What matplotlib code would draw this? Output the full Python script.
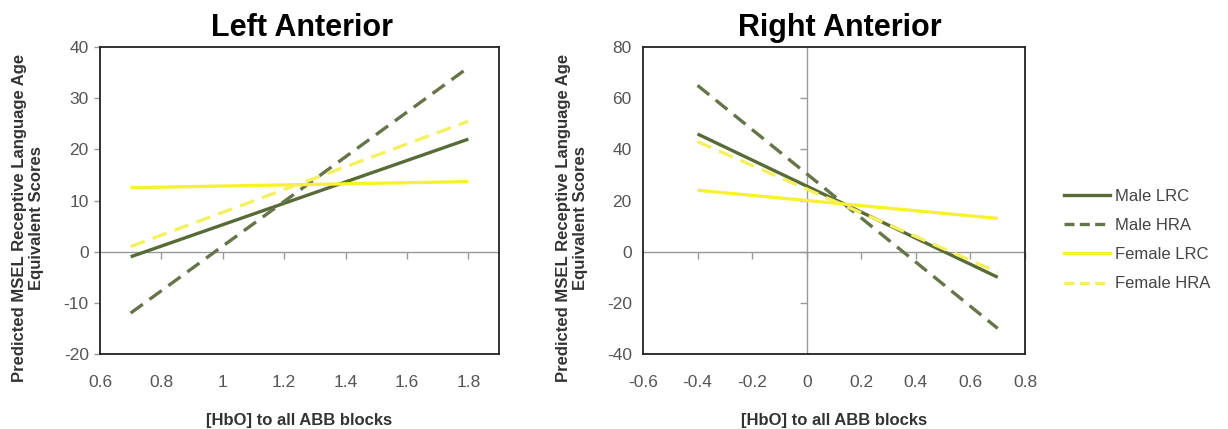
import matplotlib
matplotlib.use("Agg")
import matplotlib.pyplot as plt
from matplotlib.lines import Line2D

plt.rcParams['font.family'] = ['Liberation Sans', 'DejaVu Sans']
plt.rcParams['axes.unicode_minus'] = False

# Predicted scores at the two ends of the [HbO] range, per panel
series_names = ["Male LRC", "Male HRA", "Female LRC", "Female HRA"]

left_x = [0.7, 1.8]
left_male_lrc = [-1.0, 22.0]
left_male_hra = [-12.0, 36.0]
left_female_lrc = [12.5, 13.7]
left_female_hra = [1.0, 25.5]

right_x = [-0.4, 0.7]
right_male_lrc = [46.0, -10.0]
right_male_hra = [65.0, -30.0]
right_female_lrc = [24.0, 13.0]
right_female_hra = [43.0, -8.0]

left_xticks = [0.6, 0.8, 1.0, 1.2, 1.4, 1.6, 1.8]
left_xticklabels = ["0.6", "0.8", "1", "1.2", "1.4", "1.6", "1.8"]
left_yticks = [-20, -10, 0, 10, 20, 30, 40]
right_xticks = [-0.6, -0.4, -0.2, 0.0, 0.2, 0.4, 0.6, 0.8]
right_xticklabels = ["-0.6", "-0.4", "-0.2", "0", "0.2", "0.4", "0.6", "0.8"]
right_yticks = [-40, -20, 0, 20, 40, 60, 80]

OLIVE = "#586b36"
OLIVE_DASH = "#66744a"
YELLOW = "#f6f230"
YELLOW_DASH = "#f4f060"
styles = [
    dict(color=OLIVE, ls="-", lw=2.4),
    dict(color=OLIVE_DASH, ls=(0, (4.5, 2.5)), lw=2.4),
    dict(color=YELLOW, ls="-", lw=2.4),
    dict(color=YELLOW_DASH, ls=(0, (4.5, 2.5)), lw=2.4),
]
TICK_COLOR = "#555555"
AXIS_GRAY = "#999999"

fig = plt.figure(figsize=(12.28, 4.29), dpi=100)
ax1 = fig.add_axes([0.0814, 0.1748, 0.325, 0.7156])
ax2 = fig.add_axes([0.5236, 0.1748, 0.3111, 0.7156])


def style_axes(ax, xticks, xlabels, yticks, xlim, ylim, title, title_x, ylabel_x):
    ax.set_xlim(*xlim)
    ax.set_ylim(*ylim)
    ax.set_xticks(xticks)
    ax.set_xticklabels(xlabels)
    ax.set_yticks(yticks)
    ax.tick_params(axis='both', length=0, labelsize=12.5, labelcolor=TICK_COLOR)
    ax.tick_params(axis='x', pad=15)
    ax.tick_params(axis='y', pad=8)
    for sp in ax.spines.values():
        sp.set_color("#222222")
        sp.set_linewidth(1.3)
    ax.set_title(title, fontsize=22, fontweight='bold', pad=8, x=title_x)
    ax.set_xlabel("[HbO] to all ABB blocks", fontsize=12, fontweight='bold',
                  color="#333333", labelpad=17)
    ax.set_ylabel("Predicted MSEL Receptive Language Age\nEquivalent Scores",
                  fontsize=12, fontweight='bold', color="#333333")
    ax.yaxis.set_label_coords(ylabel_x, 0.443)
    # horizontal zero axis with small downward tick marks
    ax.axhline(0, color=AXIS_GRAY, lw=1.0, zorder=1)
    inner = [t for t in xticks if xlim[0] < t < xlim[1] or t == xticks[-1]]
    ax.plot(inner, [0] * len(inner), ls="none", marker=3, ms=5,
            mew=1.0, color=AXIS_GRAY, zorder=1, clip_on=False)


style_axes(ax1, left_xticks, left_xticklabels, left_yticks, (0.6, 1.9), (-20, 40),
           "Left Anterior", 0.505, -0.14)
style_axes(ax2, right_xticks, right_xticklabels, right_yticks, (-0.6, 0.8), (-40, 80),
           "Right Anterior", 0.515, -0.144)

# left panel: small outward ticks on the left spine
ax1.plot([0.6] * len(left_yticks), left_yticks, ls="none", marker=0, ms=4,
         mew=1.0, color=AXIS_GRAY, clip_on=False)
# right panel: vertical zero axis with ticks
ax2.axvline(0, color=AXIS_GRAY, lw=1.0, zorder=1)
ax2.plot([0] * len(right_yticks[1:-1]), right_yticks[1:-1], ls="none", marker=0,
         ms=5, mew=1.0, color=AXIS_GRAY, zorder=1)

for ys, st in zip([left_male_lrc, left_male_hra, left_female_lrc, left_female_hra], styles):
    ax1.plot(left_x, ys, solid_capstyle='butt', dash_capstyle='butt', zorder=3, **st)
for ys, st in zip([right_male_lrc, right_male_hra, right_female_lrc, right_female_hra], styles):
    ax2.plot(right_x, ys, solid_capstyle='butt', dash_capstyle='butt', zorder=3, **st)

legend_styles = [dict(st) for st in styles]
for st in legend_styles:
    if st["ls"] != "-":
        st["ls"] = (0, (3.0, 1.6))
handles = [Line2D([0], [0], **st) for st in legend_styles]
fig.legend(handles, series_names, loc='center left', bbox_to_anchor=(0.854, 0.44),
           frameon=False, fontsize=12, handlelength=2.8, handletextpad=0.25,
           labelspacing=0.85, labelcolor="#444444")

fig.savefig("out.png", dpi=100)
